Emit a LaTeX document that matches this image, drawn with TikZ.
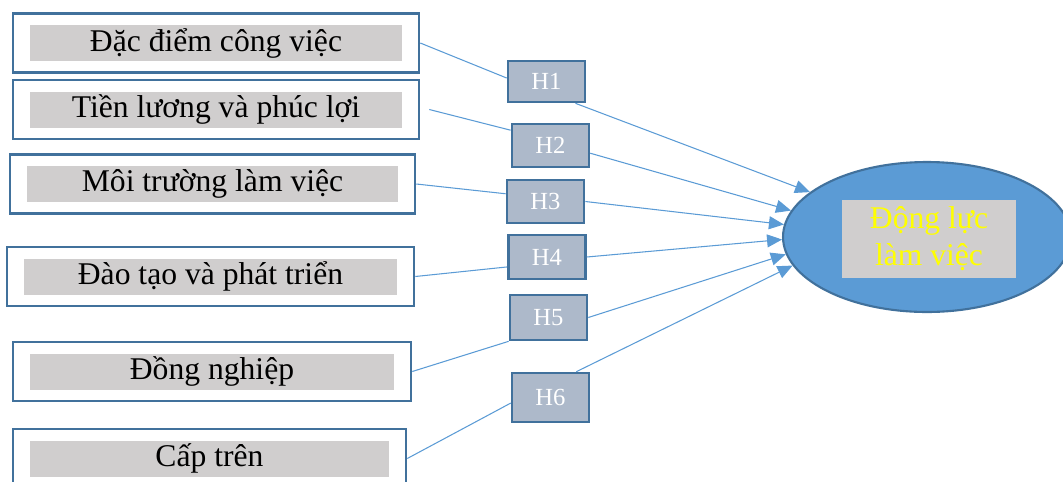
\documentclass[tikz,border=0pt]{standalone}
\usepackage{fontspec}
\setmainfont{Liberation Serif}
\usetikzlibrary{shapes.geometric, arrows.meta, positioning}
\definecolor{frameblue}{RGB}{65,113,156}
\definecolor{linkblue}{RGB}{91,155,213}
\definecolor{hypgray}{RGB}{173,185,202}
\definecolor{labelgray}{RGB}{208,206,206}
\definecolor{goalyellow}{RGB}{255,255,0}

\tikzset{
    factorbox/.style={draw=frameblue, line width=1.5pt, fill=white, minimum height=1.18cm},
    factortext/.style={fill=labelgray, minimum height=0.72cm, inner sep=0pt,
                       font=\fontsize{18}{21}\selectfont},
    hypbox/.style={draw=frameblue, line width=1.5pt, fill=hypgray, minimum width=1.54cm,
                   text=white, font=\fontsize{14}{16}\selectfont},
    link/.style={draw=linkblue, line width=0.6pt},
    linkarrow/.style={link, -{Triangle[length=0.3cm, width=0.26cm]}},
}

\begin{document}
\begin{tikzpicture}[x=0.02cm, y=-0.02cm]
    \useasboundingbox (0,0) rectangle (1063,481);

    % factors on the left
    \node[factorbox, minimum width=8.12cm] (b1) at (216,43) {};
    \node[factortext, minimum width=7.46cm] (t1) at (b1) {Đặc điểm công việc};
    \node[factorbox, minimum width=8.12cm] (b2) at (216,109.5) {};
    \node[factortext, minimum width=7.46cm] (t2) at (b2) {Tiền lương và phúc lợi};
    \node[factorbox, minimum width=8.10cm] (b3) at (212.5,184) {};
    \node[factortext, minimum width=7.44cm] (t3) at (b3) {Môi trường làm việc};
    \node[factorbox, minimum width=8.14cm] (b4) at (210.5,276.5) {};
    \node[factortext, minimum width=7.48cm] (t4) at (b4) {Đào tạo và phát triển};
    \node[factorbox, minimum width=7.96cm] (b5) at (212,371.5) {};
    \node[factortext, minimum width=7.30cm] (t5) at (b5) {Đồng nghiệp};
    \node[factorbox, minimum width=7.86cm] (b6) at (209.5,458.5) {};
    \node[factortext, minimum width=7.18cm] (t6) at (b6) {Cấp trên};

    % hypotheses
    \node[hypbox, minimum height=0.82cm] (h1) at (546.5,81.5) {H1};
    \node[hypbox, minimum height=0.86cm] (h2) at (550.5,145.5) {H2};
    \node[hypbox, minimum height=0.86cm] (h3) at (545.5,201.5) {H3};
    \node[hypbox, minimum height=0.88cm] (h4) at (547,257) {H4};
    \node[hypbox, minimum height=0.90cm] (h5) at (548.5,317.5) {H5};
    \node[hypbox, minimum height=0.98cm] (h6) at (550.5,397.5) {H6};

    % outcome
    \node[ellipse, draw=frameblue, line width=1.2pt, fill=linkblue,
          minimum width=5.76cm, minimum height=3cm] (goal) at (927,237) {};
    \node[fill=labelgray, minimum width=3.5cm, minimum height=1.58cm, inner sep=0pt,
          align=center, text=goalyellow, font=\fontsize{18}{21}\selectfont]
          (goaltext) at (929,239) {Động lực\\làm việc};

    % connectors
    \draw[link] (b1.east) -- (h1.175);
    \draw[linkarrow] (h1.-37) -- (goal.159);
    \draw[link] ([xshift=0.18cm]b2.east) -- (h2.159);
    \draw[linkarrow] (h2.-11) -- (goal.169.5);
    \draw[link] (b3.east) -- (h3.169);
    \draw[linkarrow] (h3.east) -- (goal.175);
    \draw[link] (b4.east) -- (h4.194);
    \draw[linkarrow] (h4.east) -- (goal.181);
    \draw[link] (b5.east) -- (h5.south west);
    \draw[linkarrow] (h5.east) -- (goal.187);
    \draw[link] (b6.east) -- (h6.188);
    \draw[linkarrow] (h6.45) -- (goal.192);
\end{tikzpicture}
\end{document}
